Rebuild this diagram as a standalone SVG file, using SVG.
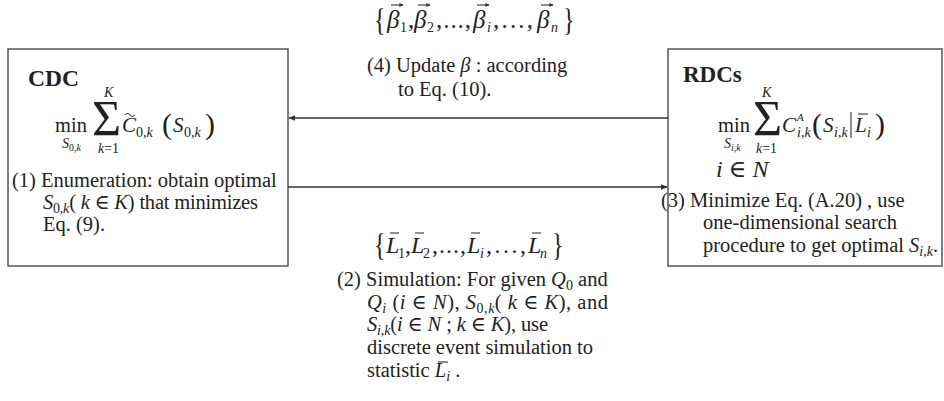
<svg xmlns="http://www.w3.org/2000/svg" width="944" height="401" viewBox="0 0 944 401">
<defs>
<style>
.t{font-family:"Liberation Serif","Times New Roman","DejaVu Serif",serif;fill:#222}
.i{font-style:italic}
.n{font-style:normal}
.b{font-weight:bold}
.box{fill:#fff;stroke:#555;stroke-width:1.5}
.con{stroke:#333;stroke-width:1.3;fill:none}
.acc{stroke:#333;stroke-width:1.1;fill:none}
</style>
<marker id="ah" viewBox="0 0 10 10" refX="9" refY="5" markerWidth="7" markerHeight="7" orient="auto" markerUnits="userSpaceOnUse">
<path d="M0,1 L10,5 L0,9 z" fill="#333"/>
</marker>
<marker id="va" viewBox="0 0 10 10" refX="9" refY="5" markerWidth="4" markerHeight="4" orient="auto" markerUnits="userSpaceOnUse">
<path d="M0,0 L10,5 L0,10 z" fill="#333"/>
</marker>
</defs>
<rect width="944" height="401" fill="#fff"/>
<g font-size="20.5" font-family="Liberation Serif, serif">

<g id="cdc">
<rect class="box" x="8" y="49" width="280" height="217"/>
<text class="t b" x="28" y="86" font-size="23.5">CDC</text>
<text class="t" x="55" y="132" font-size="20.5">min</text>
<text class="t i" x="62" y="148" font-size="14">S<tspan class="n" font-size="10" dy="3">0,</tspan><tspan font-size="10">k</tspan></text>
<text class="t" x="92" y="135" font-size="50">Σ</text>
<text class="t i" x="104" y="97" font-size="14">K</text>
<text class="t" x="98" y="153" font-size="14"><tspan class="i">k</tspan>=1</text>
<text class="t i" x="122" y="132" font-size="21">C</text>
<path class="acc" d="M125,115 q2.5,-3 5,0 t5,0"/>
<text class="t" x="136" y="137" font-size="14">0,<tspan class="i">k</tspan></text>
<text class="t" x="162" y="134" font-size="30">(</text>
<text class="t i" x="173" y="132" font-size="21">S</text>
<text class="t" x="184" y="137" font-size="14">0,<tspan class="i">k</tspan></text>
<text class="t" x="205" y="134" font-size="30">)</text>
<text class="t" x="12" y="187">(1) Enumeration: obtain optimal</text>
<text class="t" x="43" y="209" textLength="215"><tspan class="i">S</tspan><tspan font-size="14" dy="4">0,</tspan><tspan class="i" font-size="14">k</tspan><tspan dy="-4">( </tspan><tspan class="i">k</tspan> ∈ <tspan class="i">K</tspan>) that minimizes</text>
<text class="t" x="43" y="231">Eq. (9).</text>
</g>

<g id="rdcs">
<rect class="box" x="668" y="49" width="274" height="217"/>
<text class="t b" x="683" y="82" font-size="23">RDCs</text>
<text class="t" x="718" y="132" font-size="20.5">min</text>
<text class="t i" x="724" y="148" font-size="14">S<tspan font-size="10" dy="3">i</tspan><tspan class="n" font-size="10">,</tspan><tspan font-size="10">k</tspan></text>
<text class="t" x="753" y="135" font-size="50">Σ</text>
<text class="t i" x="762" y="97" font-size="14">K</text>
<text class="t" x="756" y="153" font-size="14"><tspan class="i">k</tspan>=1</text>
<text class="t i" x="782" y="132" font-size="21">C</text>
<text class="t i" x="797" y="121" font-size="11">A</text>
<text class="t i" x="797" y="137" font-size="14">i<tspan class="n">,</tspan>k</text>
<text class="t" x="812" y="134" font-size="30">(</text>
<text class="t i" x="823" y="132" font-size="21">S</text>
<text class="t i" x="834" y="137" font-size="14">i<tspan class="n">,</tspan>k</text>
<line class="acc" x1="851" y1="112" x2="851" y2="138" stroke-width="1.3"/>
<text class="t i" x="855" y="132" font-size="21">L</text>
<line class="acc" x1="858" y1="114" x2="868" y2="114"/>
<text class="t i" x="867" y="137" font-size="14">i</text>
<text class="t" x="875" y="134" font-size="30">)</text>
<text class="t i" x="716" y="177" font-size="24">i<tspan class="n"> ∈ </tspan>N</text>
<text class="t" x="661" y="207">(3) Minimize Eq. (A.20) , use</text>
<text class="t" x="703" y="229">one-dimensional search</text>
<text class="t" x="703" y="252">procedure to get optimal <tspan class="i">S</tspan><tspan class="i" font-size="14" dy="4">i</tspan><tspan font-size="14">,</tspan><tspan class="i" font-size="14">k</tspan><tspan dy="-4">.</tspan></text>
</g>

<g id="connectors">
<line class="con" x1="668" y1="118" x2="289" y2="118" marker-end="url(#ah)"/>
<line class="con" x1="288" y1="187" x2="667" y2="187" marker-end="url(#ah)"/>
</g>

<g id="beta-label">
<text class="t" transform="translate(374,31) scale(1,1.35)" font-size="24">{</text>
<text class="t i" x="387" y="28" font-size="25">β</text><text class="t" x="400" y="32" font-size="14">1</text>
<line class="acc" x1="391" y1="5" x2="403" y2="5" marker-end="url(#va)"/>
<text class="t" x="408" y="28" font-size="25">,</text>
<text class="t i" x="414" y="28" font-size="25">β</text><text class="t" x="427" y="32" font-size="14">2</text>
<line class="acc" x1="418" y1="5" x2="430" y2="5" marker-end="url(#va)"/>
<text class="t" x="436" y="28" font-size="25" textLength="35">,...,</text>
<text class="t i" x="473" y="28" font-size="25">β</text><text class="t i" x="487" y="32" font-size="14">i</text>
<line class="acc" x1="477" y1="5" x2="489" y2="5" marker-end="url(#va)"/>
<text class="t" x="493" y="28" font-size="25" textLength="40">,...,</text>
<text class="t i" x="537" y="28" font-size="25">β</text><text class="t i" x="551" y="32" font-size="14">n</text>
<line class="acc" x1="541" y1="5" x2="553" y2="5" marker-end="url(#va)"/>
<text class="t" transform="translate(563,31) scale(1,1.35)" font-size="24">}</text>
<text class="t" x="367" y="72">(4) Update <tspan class="i">β</tspan> :  according</text>
<text class="t" x="398" y="96">to Eq. (10).</text>
</g>

<g id="l-label">
<text class="t" transform="translate(374,256) scale(1,1.35)" font-size="24">{</text>
<text class="t i" x="386" y="253" font-size="24">L</text><text class="t" x="398" y="258" font-size="14">1</text>
<line class="acc" x1="390" y1="233" x2="399" y2="233"/>
<text class="t" x="405" y="253" font-size="24">,</text>
<text class="t i" x="411" y="253" font-size="24">L</text><text class="t" x="423" y="258" font-size="14">2</text>
<line class="acc" x1="415" y1="233" x2="424" y2="233"/>
<text class="t" x="432" y="253" font-size="24" textLength="34">,...,</text>
<text class="t i" x="467" y="253" font-size="24">L</text><text class="t i" x="480" y="258" font-size="14">i</text>
<line class="acc" x1="471" y1="233" x2="480" y2="233"/>
<text class="t" x="486" y="253" font-size="24" textLength="40">,...,</text>
<text class="t i" x="528" y="253" font-size="24">L</text><text class="t i" x="540" y="258" font-size="14">n</text>
<line class="acc" x1="532" y1="233" x2="541" y2="233"/>
<text class="t" transform="translate(552,256) scale(1,1.35)" font-size="24">}</text>
<text class="t" x="337" y="286">(2) Simulation: For given <tspan class="i">Q</tspan><tspan font-size="14" dy="4">0</tspan><tspan dy="-4"> and</tspan></text>
<text class="t" x="367" y="308.5" textLength="241"><tspan class="i">Q</tspan><tspan class="i" font-size="14" dy="4">i</tspan><tspan dy="-4"> (</tspan><tspan class="i">i</tspan> ∈ <tspan class="i">N</tspan>), <tspan class="i">S</tspan><tspan font-size="14" dy="4">0,</tspan><tspan class="i" font-size="14">k</tspan><tspan dy="-4">( </tspan><tspan class="i">k</tspan> ∈ <tspan class="i">K</tspan>), and</text>
<text class="t" x="367" y="331" textLength="181"><tspan class="i">S</tspan><tspan class="i" font-size="14" dy="4">i</tspan><tspan font-size="14">,</tspan><tspan class="i" font-size="14">k</tspan><tspan dy="-4">(</tspan><tspan class="i">i</tspan> ∈ <tspan class="i">N</tspan> ; <tspan class="i">k</tspan> ∈ <tspan class="i">K</tspan>), use</text>
<text class="t" x="367" y="354">discrete event simulation to</text>
<text class="t" x="367" y="377">statistic <tspan class="i">L</tspan><tspan class="i" font-size="14" dy="4">i</tspan><tspan dy="-4">   .</tspan></text>
<line class="acc" x1="438" y1="362" x2="448" y2="362"/>
</g>
</g>
</svg>
